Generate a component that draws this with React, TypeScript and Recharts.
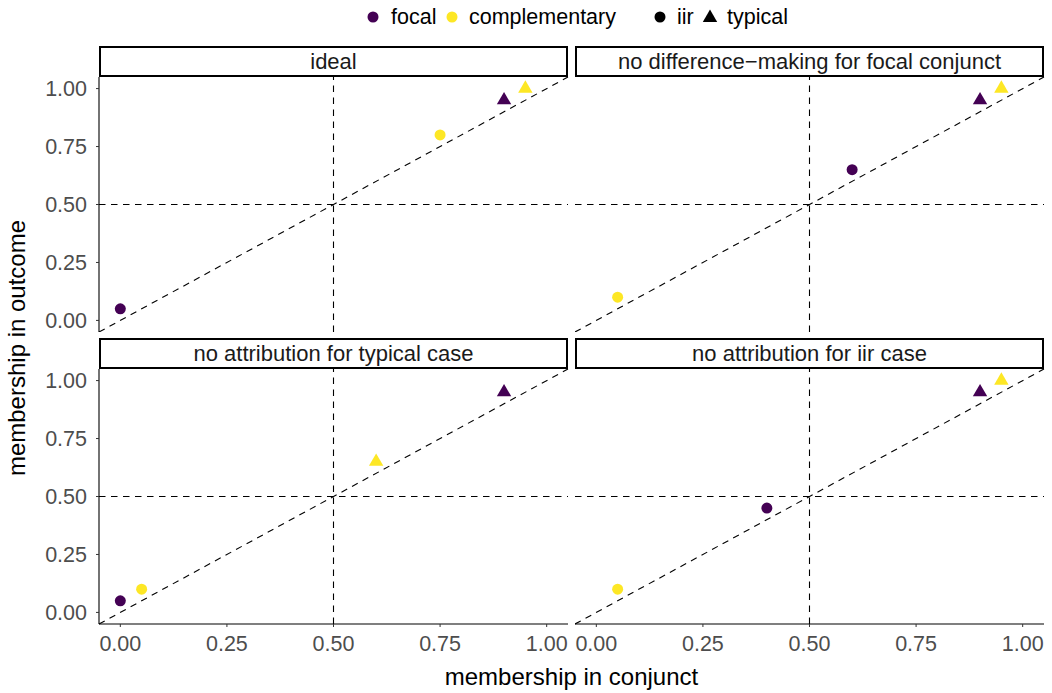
import React from 'react';
import { ScatterChart, Scatter, XAxis, YAxis, ReferenceLine } from 'recharts';

// facet titles, in panel order (top-left, top-right, bottom-left, bottom-right)
const panelTitles = [
  'ideal',
  'no difference\u2212making for focal conjunct',
  'no attribution for typical case',
  'no attribution for iir case',
];

// focal conjunct, iir case
const focalIirX = [0, 0.6, 0, 0.4];
const focalIirY = [0.05, 0.65, 0.05, 0.45];
// complementary conjunct, iir case
const complIirX = [0.75, 0.05, 0.05, 0.05];
const complIirY = [0.8, 0.1, 0.1, 0.1];
// focal conjunct, typical case
const focalTypX = [0.9, 0.9, 0.9, 0.9];
const focalTypY = [0.95, 0.95, 0.95, 0.95];
// complementary conjunct, typical case
const complTypX = [0.95, 0.95, 0.6, 0.95];
const complTypY = [1.0, 1.0, 0.65, 1.0];

const ticks = [0, 0.25, 0.5, 0.75, 1];
const domain: [number, number] = [-0.05, 1.05];

const PURPLE = '#440154';
const YELLOW = '#FDE725';
const FONT = '"Liberation Sans", Arial, Helvetica, sans-serif';
const SMALL = 21.5;
const TITLE = 24;

const PANEL_W = 469;
const PANEL_H = 255;
const Y_AXIS_W = 99;
const X_AXIS_H = 50;

const circleShape = (color: string) => (props: any) =>
  <circle cx={props.cx} cy={props.cy} r={5.5} fill={color} />;

const triangleShape = (color: string) => (props: any) => {
  const { cx, cy } = props;
  const h = 12.4;
  const w = 7.2;
  const d = `M${cx},${cy - (2 * h) / 3} L${cx + w},${cy + h / 3} L${cx - w},${cy + h / 3} Z`;
  return <path d={d} fill={color} />;
};

interface PanelProps {
  idx: number;
  left: number;
  top: number;
  showX: boolean;
  showY: boolean;
}

const Panel: React.FC<PanelProps> = ({ idx, left, top, showX, showY }) => {
  const yW = showY ? Y_AXIS_W : 0;
  const xH = showX ? X_AXIS_H : 0;
  const pad = 2;
  const tickStyle = { fill: '#4D4D4D', fontSize: SMALL, fontFamily: FONT };
  const fmt = (v: number) => v.toFixed(2);

  return (
    <>
      <div
        style={{
          position: 'absolute',
          left,
          top: top - 31,
          width: PANEL_W,
          height: 31,
          boxSizing: 'border-box',
          border: '2.2px solid #000',
          display: 'flex',
          alignItems: 'center',
          justifyContent: 'center',
          fontFamily: FONT,
          fontSize: 22,
          color: '#1A1A1A',
          background: '#fff',
        }}
      >
        {panelTitles[idx]}
      </div>
      <div style={{ position: 'absolute', left: left - yW, top: top - pad }}>
        <ScatterChart
          width={yW + PANEL_W + pad}
          height={PANEL_H + xH + pad}
          margin={{ top: pad, right: pad, bottom: 0, left: 0 }}
          style={{ overflow: 'visible' }}
        >
          <XAxis
            type="number"
            dataKey="x"
            domain={domain}
            ticks={ticks}
            interval={0}
            tickFormatter={fmt}
            hide={!showX}
            height={X_AXIS_H}
            tickSize={3}
            tickMargin={9}
            axisLine={{ stroke: '#000', strokeWidth: 1.1 }}
            tickLine={{ stroke: '#333' }}
            tick={tickStyle}
            allowDataOverflow
          />
          <YAxis
            type="number"
            dataKey="y"
            domain={domain}
            ticks={ticks}
            interval={0}
            tickFormatter={fmt}
            hide={!showY}
            width={Y_AXIS_W}
            tickSize={3}
            tickMargin={9}
            axisLine={{ stroke: '#000', strokeWidth: 1.1 }}
            tickLine={{ stroke: '#333' }}
            tick={tickStyle}
            allowDataOverflow
          />
          <ReferenceLine x={0.5} stroke="#000" strokeWidth={1.1} strokeDasharray="6.5 5.5" />
          <ReferenceLine y={0.5} stroke="#000" strokeWidth={1.1} strokeDasharray="6.5 5.5" />
          <ReferenceLine
            segment={[{ x: -0.05, y: -0.05 }, { x: 1.05, y: 1.05 }]}
            stroke="#000"
            strokeWidth={1.1}
            strokeDasharray="6.5 5.5"
            ifOverflow="visible"
          />
          <Scatter
            data={[{ x: focalIirX[idx], y: focalIirY[idx] }]}
            shape={circleShape(PURPLE)}
            isAnimationActive={false}
          />
          <Scatter
            data={[{ x: complIirX[idx], y: complIirY[idx] }]}
            shape={circleShape(YELLOW)}
            isAnimationActive={false}
          />
          <Scatter
            data={[{ x: focalTypX[idx], y: focalTypY[idx] }]}
            shape={triangleShape(PURPLE)}
            isAnimationActive={false}
          />
          <Scatter
            data={[{ x: complTypX[idx], y: complTypY[idx] }]}
            shape={triangleShape(YELLOW)}
            isAnimationActive={false}
          />
        </ScatterChart>
      </div>
    </>
  );
};

const Legend: React.FC = () => (
  <svg width={1052} height={36} style={{ position: 'absolute', left: 0, top: 0 }}>
    <g fontFamily={FONT} fontSize={SMALL} fill="#000">
      <circle cx={373} cy={17} r={5.5} fill={PURPLE} />
      <text x={391} y={17} dominantBaseline="central">focal</text>
      <circle cx={452} cy={17} r={5.5} fill={YELLOW} />
      <text x={469} y={17} dominantBaseline="central">complementary</text>
      <circle cx={660} cy={17} r={5.5} fill="#000" />
      <text x={677} y={17} dominantBaseline="central">iir</text>
      <path d="M710,9.5 L717.2,21.9 L702.8,21.9 Z" fill="#000" />
      <text x={727} y={17} dominantBaseline="central">typical</text>
    </g>
  </svg>
);

export default function App() {
  const leftX = 99;
  const rightX = 575;
  const topY = 77;
  const botY = 369;
  return (
    <div
      style={{
        position: 'absolute',
        left: 0,
        top: 0,
        width: 1052,
        height: 693,
        background: '#fff',
        overflow: 'hidden',
      }}
    >
      <Legend />
      <Panel idx={0} left={leftX} top={topY} showX={false} showY />
      <Panel idx={1} left={rightX} top={topY} showX={false} showY={false} />
      <Panel idx={2} left={leftX} top={botY} showX showY />
      <Panel idx={3} left={rightX} top={botY} showX showY={false} />
      <div
        style={{
          position: 'absolute',
          left: leftX,
          width: rightX + PANEL_W - leftX,
          top: 663,
          textAlign: 'center',
          fontFamily: FONT,
          fontSize: TITLE,
          color: '#000',
        }}
      >
        membership in conjunct
      </div>
      <div
        style={{
          position: 'absolute',
          left: 17,
          top: 348,
          transform: 'translate(-50%, -50%) rotate(-90deg)',
          whiteSpace: 'nowrap',
          fontFamily: FONT,
          fontSize: TITLE,
          color: '#000',
        }}
      >
        membership in outcome
      </div>
    </div>
  );
}
